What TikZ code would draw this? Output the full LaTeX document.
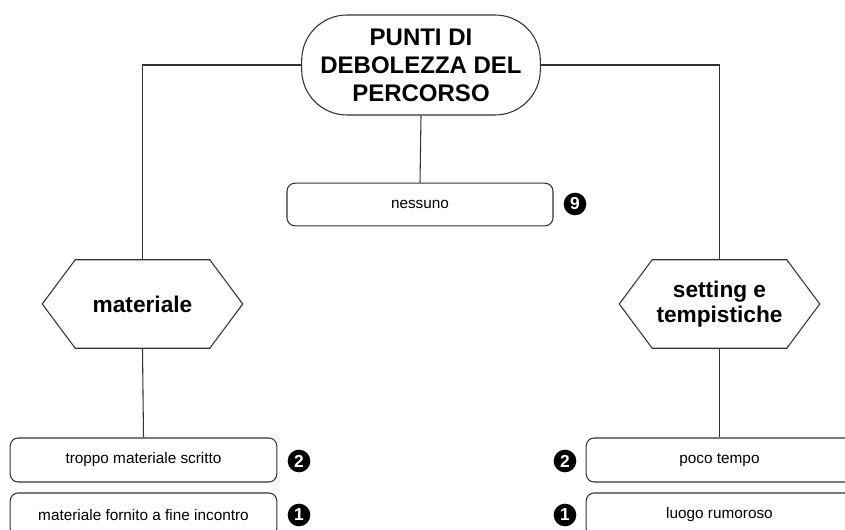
\documentclass[tikz,border=0pt]{standalone}
\usepackage{fontspec}
\setmainfont{Liberation Sans}
\usetikzlibrary{positioning}

\tikzset{
  link/.style={draw=black!80, line width=0.8pt},
  topbox/.style={link, rounded corners=34pt, minimum width=179pt, minimum height=75pt,
    align=center, inner sep=0pt, font=\fontsize{18}{21}\selectfont\bfseries},
  hexbox/.style={minimum width=150pt, minimum height=66pt, align=center, inner sep=0pt,
    font=\fontsize{17}{19}\selectfont\bfseries},
  answer/.style={link, rounded corners=6pt, minimum width=200pt, minimum height=33pt,
    inner sep=0pt, font=\fontsize{11.5}{13}\selectfont},
  badge/.style={circle, fill=black, text=white, inner sep=0pt, minimum size=17pt,
    font=\fontsize{13}{13}\selectfont\bfseries}
}

\begin{document}
\begin{tikzpicture}[x=0.75pt, y=-0.75pt]
  \useasboundingbox[fill=white] (0,0) rectangle (845,530);

  % centre
  \node[topbox] (top) at (421,65) {PUNTI DI\\DEBOLEZZA DEL\\PERCORSO};
  \node[answer, minimum width=199.5pt, minimum height=32pt] (ness) at (420,204.5) {nessuno};
  \node[badge] (nove) at (575,204) {9};

  % two branches
  \node[hexbox] (mat) at (142.5,304) {materiale};
  \node[hexbox] (set) at (719.5,304) {setting e\\tempistiche};
  \foreach \h in {mat,set}
    \draw[link] (\h.west) -- ([xshift=24.75pt]\h.north west) -- ([xshift=-24.75pt]\h.north east)
      -- (\h.east) -- ([xshift=-24.75pt]\h.south east) -- ([xshift=24.75pt]\h.south west) -- cycle;

  \node[answer] (b1) at (143.5,460) {troppo materiale scritto};
  \node[answer] (b2) at (143.5,515) {materiale fornito a fine incontro};
  \node[badge] (bn1) at (299,461) {2};
  \node[badge] (bn2) at (299,515) {1};

  \node[answer] (c1) at (719.5,460) {poco tempo};
  \node[answer] (c2) at (719.5,515) {luogo rumoroso};
  \node[badge] (cn1) at (565,461) {2};
  \node[badge] (cn2) at (565,515) {1};

  % connectors
  \draw[link] (top.west) -| (mat.north);
  \draw[link] (top.east) -| (set.north);
  \draw[link] (top.south) -- (ness.north);
  \draw[link] (mat.south) -- (b1.north);
  \draw[link] (set.south) -- (c1.north);
\end{tikzpicture}
\end{document}
